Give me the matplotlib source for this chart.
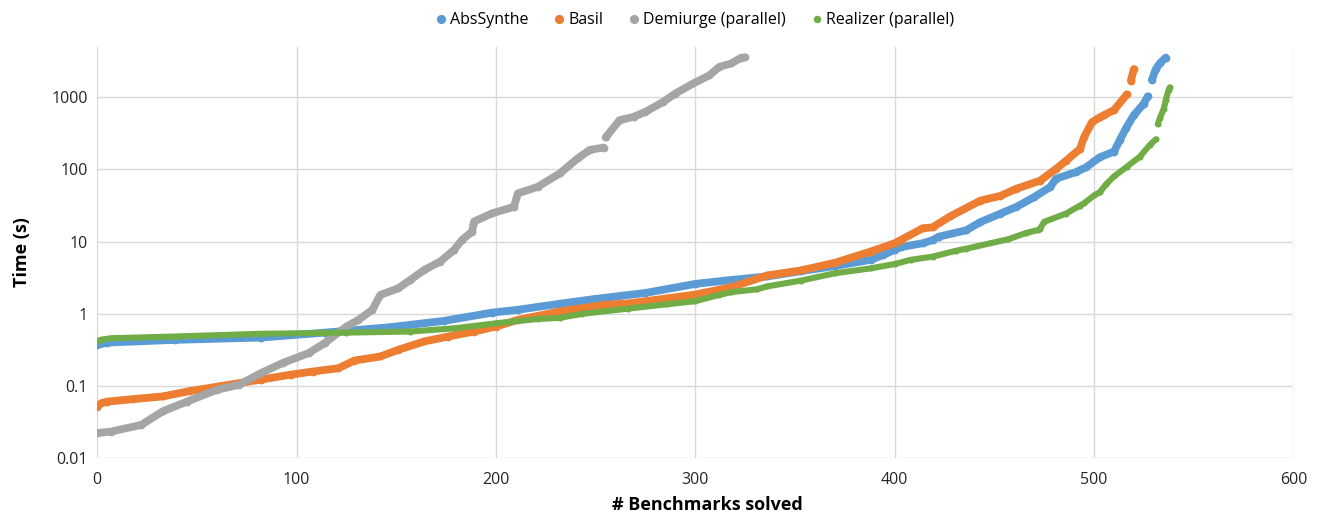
import numpy as np
import matplotlib.pyplot as plt
from matplotlib.lines import Line2D

# ---------------- dados (NaN = salto na curva) ----------------
nan = np.nan

abs_n = [0, 5, 39, 82, 114, 146, 174, 198, 211, 232, 249, 275, 300, 318, 336,
         353, 370, 388, 394, 400, 403, 414, 419, 422, 436, 443, 453, 461, 470,
         478, 481, 491, 496, 503, 510, 513, 516, 520, 525, 527, nan,
         529, 531, 533, 536]
abs_t = [0.373, 0.40, 0.437, 0.47, 0.55, 0.65, 0.80, 1.04, 1.14, 1.38, 1.6,
         1.95, 2.6, 2.95, 3.3, 3.9, 4.6, 5.6, 6.5, 7.7, 8.4, 9.5, 10.5, 11.7,
         14.4, 18.7, 24.4, 30.2, 41.4, 57, 74.5, 92, 107, 148, 176, 256, 370,
         565, 817, 1030, nan, 1730, 2450, 2940, 3540]

basil_n = [0, 2, 5, 18, 33, 46, 61, 71, 82, 97, 108, 121, 129, 142, 151, 164,
           176, 189, 200, 211, 232, 254, 267, 300, 318, 336, 353, 370, 388, 400,
           403, 414, 419, 428, 443, 453, 461, 473, 481, 486, 493, 495, 499, 503,
           505, 510, 516.5, nan, 518.5, 520]
basil_t = [0.052, 0.058, 0.061, 0.066, 0.072, 0.085, 0.099, 0.11, 0.123, 0.144,
           0.159, 0.177, 0.226, 0.257, 0.318, 0.415, 0.486, 0.57, 0.668, 0.826,
           1.08, 1.33, 1.40, 1.85, 2.34, 3.4, 4.0, 5.1, 7.3, 9.5, 10.5, 15.3,
           15.8, 22.5, 37, 43, 54, 70, 102, 132, 193, 280, 451, 528, 565, 662,
           1095, nan, 1690, 2450]

dem_n = [0, 7, 22, 33, 45, 60, 71, 82, 93, 106, 114, 125, 131, 138, 142, 151,
         157, 164, 172, 179, 183, 188, 189, 198, 209, 211, 221, 232, 241, 247,
         254, nan, 255, 262, 269, 275, 284, 290, 299, 307, 312, 318, 323, 325]
dem_t = [0.0224, 0.0235, 0.029, 0.045, 0.061, 0.089, 0.104, 0.151, 0.209,
         0.286, 0.393, 0.668, 0.826, 1.14, 1.83, 2.26, 2.95, 4.06, 5.3, 7.7,
         10.6, 13.8, 19, 24.6, 30.4, 46.6, 57.5, 88, 142, 186, 201, nan, 277,
         480, 535, 627, 865, 1125, 1550, 2000, 2630, 2930, 3530, 3560]

real_n = [0, 2, 7, 39, 82, 125, 157, 179, 200, 221, 232, 243, 266, 286, 300,
          312, 318, 331, 336, 353, 370, 388, 400, 408, 419, 431, 436, 457, 466,
          472, 473, 475, 486, 493, 495, 500, 503, 506, 510, 516.5, 523, 528,
          531, nan, 532, 533, 535, 536, 537.4, 538]
real_t = [0.42, 0.44, 0.46, 0.486, 0.53, 0.55, 0.57, 0.63, 0.74, 0.85, 0.88,
          1.0, 1.18, 1.36, 1.5, 1.83, 2.0, 2.19, 2.4, 2.89, 3.65, 4.27, 4.9,
          5.6, 6.2, 7.5, 8.0, 10.8, 13.2, 14.5, 15.2, 18.8, 24.5, 31.6, 34,
          43.6, 48.6, 62, 80, 109, 150, 218, 261, nan, 424, 510, 693, 915,
          1260, 1365]

series = [
    ("AbsSynthe", abs_n, abs_t, "#5B9BD5", 5.6),
    ("Basil", basil_n, basil_t, "#ED7D31", 5.6),
    ("Demiurge (parallel)", dem_n, dem_t, "#A5A5A5", 5.6),
    ("Realizer (parallel)", real_n, real_t, "#70AD47", 4.4),
]

x_ticks = [0, 100, 200, 300, 400, 500, 600]
y_ticks = [0.01, 0.1, 1, 10, 100, 1000]
y_labels = ["0.01", "0.1", "1", "10", "100", "1000"]

# ---------------- figura ----------------
plt.rcParams['font.family'] = ['Open Sans', 'DejaVu Sans']
fig = plt.figure(figsize=(13.2, 5.18), dpi=100)
ax = fig.add_axes([0.0737, 0.1152, 0.9061, 0.7946])

for name, n, t, cor, ms in series:
    # linha grossa + marcadores do mesmo diametro imitam a cadeia de pontos do Excel
    ax.plot(n, t, color=cor, lw=ms, marker='o', ms=ms, mew=0, mfc=cor,
            solid_capstyle='round', solid_joinstyle='round', label=name, zorder=3)

ax.set_yscale('log')
ax.set_xlim(0, 600)
ax.set_ylim(0.01, 5000)
ax.set_xticks(x_ticks)
ax.set_yticks(y_ticks)
ax.set_yticklabels(y_labels)
ax.yaxis.set_minor_locator(plt.NullLocator())
ax.tick_params(axis='both', length=0, labelsize=11.5, colors='#262626')
ax.tick_params(axis='x', pad=10)
ax.tick_params(axis='y', pad=7)

for s in ax.spines.values():
    s.set_visible(False)
ax.grid(True, color='#d9d9d9', lw=1.0, zorder=0)
ax.set_axisbelow(True)

ax.set_xlabel('# Benchmarks solved', fontsize=13, fontweight='bold', va='center')
ax.xaxis.set_label_coords(0.51, -0.1135)
ax.set_ylabel('Time (s)', fontsize=13, fontweight='bold', va='center')
ax.yaxis.set_label_coords(-0.063, 0.5)

handles = [Line2D([], [], ls='none', marker='o', color=c, mew=0, ms=ms + 1.0)
           for _, _, _, c, ms in series]
fig.legend(handles, [s[0] for s in series], loc='center', ncol=4,
           bbox_to_anchor=(0.5265, 0.961), frameon=False, fontsize=11.5,
           handlelength=0.6, handletextpad=0.3, columnspacing=1.6)

fig.savefig('out.png', dpi=100)
